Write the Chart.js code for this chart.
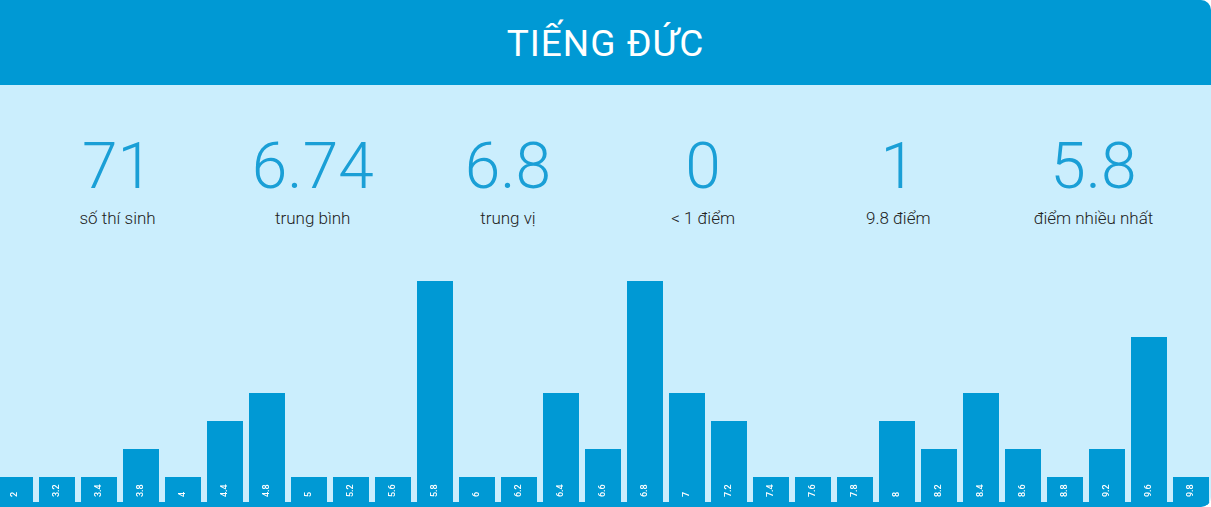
<!DOCTYPE html>
<html>
<head>
<meta charset="utf-8">
<script src="https://cdn.jsdelivr.net/npm/chart.js@4"></script>
<style>
  html, body { margin: 0; padding: 0; background: #ffffff; }
  #card {
    position: relative; width: 1211px; height: 507px; overflow: hidden;
    background: #cbeefd; border-radius: 0 10px 10px 0;
    font-family: Roboto, sans-serif;
  }
  #head {
    height: 85px; background: #0099d4; color: #fff;
    text-align: center; font-size: 37px; font-weight: 400;
    line-height: 88px; letter-spacing: 1px;
  }
  #stats { position: absolute; top: 131px; left: 20px; right: 20px; display: flex; }
  .stat { flex: 1; text-align: center; }
  .num { font-size: 64px; font-weight: 300; color: #1a9fd6; line-height: 72px; }
  .lbl { font-size: 17px; font-weight: 300; color: #222; line-height: 22px; margin-top: 4px; }
  #chartBox { position: absolute; left: -6px; top: 281px; width: 1218px; height: 224px; }
  #band { position: absolute; left: 0; right: 0; bottom: 0; height: 5px; background: #0099d4; }
</style>
</head>
<body>
<div id="card">
  <div id="head">TIẾNG ĐỨC</div>
  <div id="stats"></div>
  <div id="chartBox"><canvas id="distChart"></canvas></div>
  <div id="band"></div>
</div>
<script>
// summary numbers above the chart
var statValues = ['71', '6.74', '6.8', '0', '1', '5.8'];
var statLabels = ['số thí sinh', 'trung bình', 'trung vị', '< 1 điểm', '9.8 điểm', 'điểm nhiều nhất'];

// score -> number of candidates
var scores = ['2', '3.2', '3.4', '3.8', '4', '4.4', '4.8', '5', '5.2', '5.6', '5.8', '6', '6.2', '6.4', '6.6',
              '6.8', '7', '7.2', '7.4', '7.6', '7.8', '8', '8.2', '8.4', '8.6', '8.8', '9.2', '9.6', '9.8'];
var counts = [1, 1, 1, 2, 1, 3, 4, 1, 1, 1, 8, 1, 1, 4, 2,
              8, 4, 3, 1, 1, 1, 3, 2, 4, 2, 1, 2, 6, 1];

var statsDiv = document.getElementById('stats');
statValues.forEach(function(v, i){
    var d = document.createElement('div');
    d.className = 'stat';
    var n = document.createElement('div'); n.className = 'num'; n.textContent = v;
    var l = document.createElement('div'); l.className = 'lbl'; l.textContent = statLabels[i];
    d.appendChild(n); d.appendChild(l);
    statsDiv.appendChild(d);
});

// white score label written upward inside each bar
var barLabels = {
    id: 'barLabels',
    afterDatasetsDraw: function(chart){
        var ctx = chart.ctx;
        var meta = chart.getDatasetMeta(0);
        ctx.save();
        ctx.fillStyle = '#ffffff';
        ctx.font = '500 9px Roboto';
        ctx.textAlign = 'left';
        ctx.textBaseline = 'middle';
        meta.data.forEach(function(bar, i){
            ctx.save();
            ctx.translate(bar.x, bar.base - 8);
            ctx.rotate(-Math.PI / 2);
            ctx.fillText(chart.data.labels[i], 0, 0);
            ctx.restore();
        });
        ctx.restore();
    }
};

function chartRenderer(){
    var ctx = document.getElementById('distChart').getContext('2d');
    new Chart(ctx, {
        type: 'bar',
        data: {
            labels: scores,
            datasets: [{
                data: counts,
                backgroundColor: '#0099d4',
                borderWidth: 0,
                barPercentage: 36 / 42,
                categoryPercentage: 1
            }]
        },
        options: {
            responsive: true,
            maintainAspectRatio: false,
            animation: false,
            layout: { padding: 0 },
            plugins: {
                legend: { display: false },
                tooltip: { enabled: false }
            },
            scales: {
                x: { display: false },
                y: { display: false, min: 0, max: Math.max.apply(null, counts) }
            }
        },
        plugins: [barLabels]
    });
}
chartRenderer();
</script>
</body>
</html>
